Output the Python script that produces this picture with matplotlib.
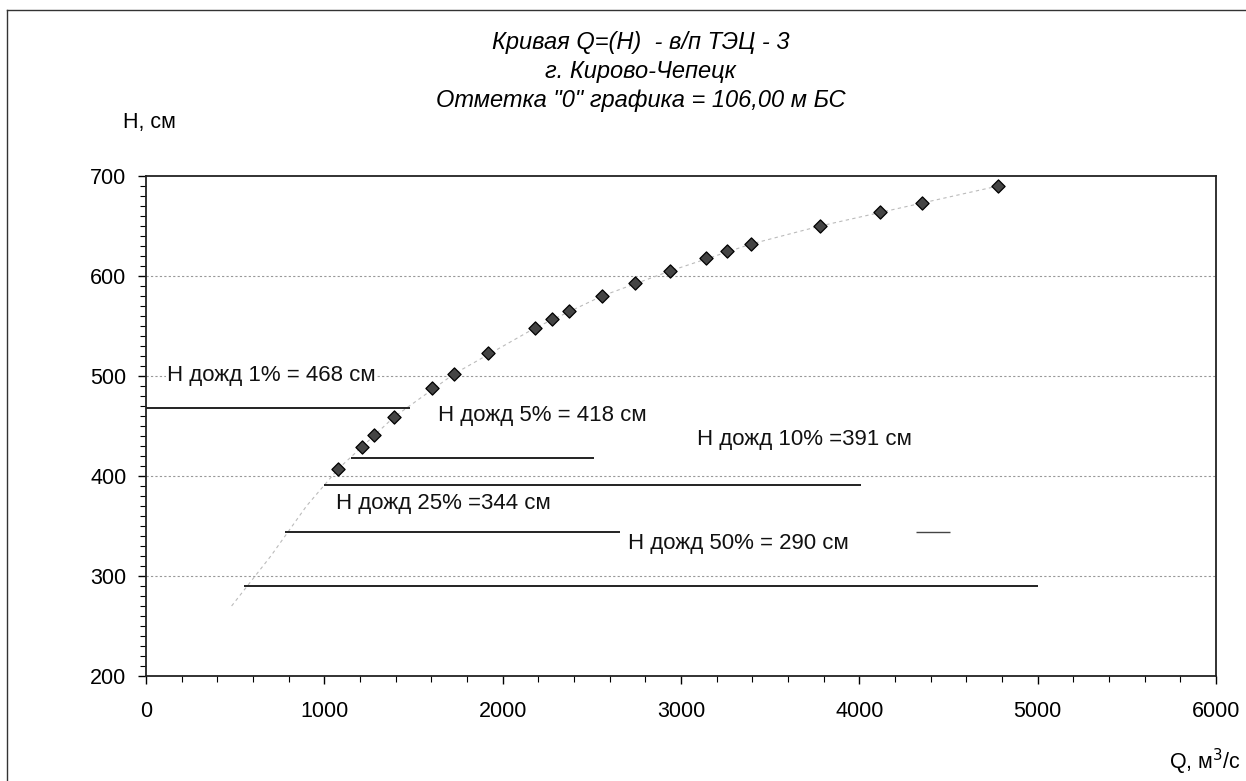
import matplotlib.pyplot as plt
from matplotlib.lines import Line2D
from matplotlib.ticker import MultipleLocator

plt.rcParams['font.family'] = ['Liberation Sans', 'DejaVu Sans']

# measured points Q (m3/s) vs H (cm)
q_obs = [1077, 1211, 1279, 1391, 1604, 1727, 1918, 2181, 2277, 2372,
         2557, 2742, 2938, 3140, 3258, 3393, 3780, 4116, 4352, 4778]
h_obs = [407, 429, 441, 459, 488, 502, 523, 548, 557, 565,
         580, 593, 605, 618, 625, 632, 650, 664, 673, 690]

# hand-drawn rating curve (light dotted), extended below the observations
curve_q = [480, 700, 900, 1077, 1391, 1727, 2181, 2557, 2938, 3393, 3780, 4352, 4778]
curve_h = [270, 320, 370, 407, 459, 502, 548, 580, 605, 632, 650, 673, 690]

# rain flood levels
rain_labels = ["Н дожд 1% = 468 см", "Н дожд 5% = 418 см", "Н дожд 10% =391 см",
               "Н дожд 25% =344 см", "Н дожд 50% = 290 см"]
rain_h = [468, 418, 391, 344, 290]
rain_q0 = [0, 1150, 1000, 780, 550]
rain_q1 = [1480, 2510, 4010, 2660, 5000]
label_q = [120, 1640, 3090, 1065, 2700]
label_h = [501, 460, 436, 372, 332]

fig = plt.figure(figsize=(12.46, 7.81), dpi=100)
ax = fig.add_axes([0.1172, 0.1345, 0.8587, 0.6401])

ax.set_xlim(0, 6000)
ax.set_ylim(200, 700)

for y in [300, 400, 500, 600]:
    ax.axhline(y, color='#999999', lw=0.8, ls=(0, (2, 2)), zorder=1)

ax.plot(curve_q, curve_h, color='#bbbbbb', lw=0.8, ls=(0, (3, 3)), zorder=2)

for h, a, b in zip(rain_h, rain_q0, rain_q1):
    ax.hlines(h, a, b, color='#222222', lw=1.4, zorder=3)
# short stray segment on the 25% level
ax.hlines(rain_h[3], 4320, 4510, color='#444444', lw=1.0, zorder=3)

for txt, x, y in zip(rain_labels, label_q, label_h):
    ax.text(x, y, txt, fontsize=16, va='center', ha='left', color='#111111',
            bbox=dict(facecolor='white', edgecolor='none', pad=1), zorder=4)

ax.scatter(q_obs, h_obs, marker='D', s=45, color='#444444', edgecolors='black',
           linewidths=0.9, zorder=5)

ax.xaxis.set_major_locator(MultipleLocator(1000))
ax.xaxis.set_minor_locator(MultipleLocator(200))
ax.yaxis.set_major_locator(MultipleLocator(100))
ax.yaxis.set_minor_locator(MultipleLocator(10))
ax.tick_params(axis='both', which='major', direction='out', length=6, width=1,
               labelsize=15.5, color='black')
ax.tick_params(axis='both', which='minor', direction='out', length=4, width=0.8)
ax.tick_params(axis='x', pad=12)
ax.tick_params(axis='y', pad=8)
for s in ax.spines.values():
    s.set_color('#222222')
    s.set_linewidth(1.3)

fig.text(0.514, 0.946, "Кривая Q=(H)  - в/п ТЭЦ - 3", ha='center', va='center',
         fontsize=17, style='italic')
fig.text(0.514, 0.908, "г. Кирово-Чепецк", ha='center', va='center',
         fontsize=17, style='italic')
fig.text(0.514, 0.871, "Отметка \"0\" графика = 106,00 м БС", ha='center', va='center',
         fontsize=17, style='italic')
fig.text(0.099, 0.843, "Н, см", ha='left', va='center', fontsize=15.5)
fig.text(0.996, 0.024, "Q, м$^3$/с", ha='right', va='center', fontsize=15.5)

# outer chart border: only top and left edges are visible in the scan
fig.add_artist(Line2D([0.006, 1.0], [0.987, 0.987], transform=fig.transFigure,
                      color='#333333', lw=1.0))
fig.add_artist(Line2D([0.006, 0.006], [0.0, 0.987], transform=fig.transFigure,
                      color='#333333', lw=1.0))

fig.savefig('out.png', dpi=100, facecolor='white')
